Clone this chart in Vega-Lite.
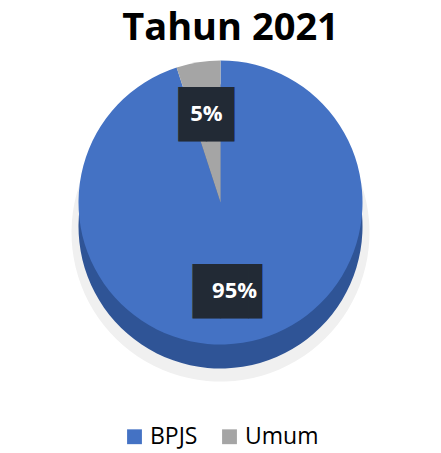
{
  "$schema": "https://vega.github.io/schema/vega-lite/v6.json",
  "width": 441,
  "height": 453,
  "autosize": {"type": "fit", "contains": "padding"},
  "padding": {"top": 10, "bottom": 4, "left": 5, "right": 5},
  "background": "white",
  "config": {"legend": {"layout": {"bottom": {"anchor": "middle"}}}},
  "title": {"text": "Tahun 2021", "fontSize": 38, "font": "Open Sans", "fontWeight": "bold", "color": "#000000", "offset": 0, "dx": 10},
  "data": {"values": [
    {"kategori": "BPJS", "persen": 95, "label": "95%", "urut": 1, "kotak": "██▌"},
    {"kategori": "Umum", "persen": 5, "label": "5%", "urut": 2, "kotak": "██"}
  ]},
  "encoding": {
    "theta": {"field": "persen", "type": "quantitative", "stack": true},
    "order": {"field": "urut", "type": "quantitative"}
  },
  "layer": [
    {"mark": {"type": "arc", "outerRadius": 149, "yOffset": 2, "color": "#F0F0F0"}},
    {"mark": {"type": "arc", "outerRadius": 142, "yOffset": -4, "color": "#2F5496"}},
    {
      "mark": {"type": "arc", "outerRadius": 142, "yOffset": -28},
      "encoding": {
        "color": {
          "field": "kategori", "type": "nominal",
          "scale": {"domain": ["BPJS", "Umum"], "range": ["#4472C4", "#A5A5A5"]},
          "legend": {"orient": "bottom", "direction": "horizontal", "title": null, "symbolType": "square", "symbolSize": 220, "symbolStrokeWidth": 0, "labelFontSize": 23, "labelFont": "Open Sans", "labelColor": "#000000", "columnPadding": 20, "offset": 12}
        }
      }
    },
    {
      "mark": {"type": "text", "radius": 90, "yOffset": -26, "font": "DejaVu Sans Mono", "fontSize": 46, "color": "#222A35", "baseline": "middle"},
      "encoding": {"text": {"field": "kotak"}}
    },
    {
      "mark": {"type": "text", "radius": 90, "yOffset": -28, "font": "Open Sans", "fontWeight": "bold", "fontSize": 22, "color": "#FFFFFF", "baseline": "middle"},
      "encoding": {"text": {"field": "label"}}
    }
  ]
}
